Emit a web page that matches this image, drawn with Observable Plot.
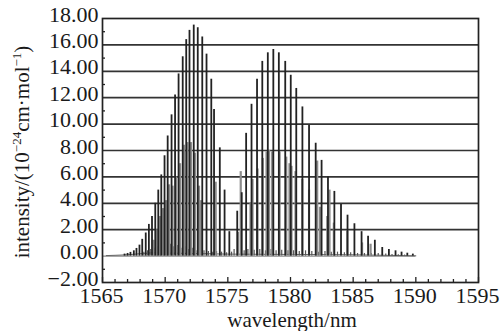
<!DOCTYPE html>
<html><head><meta charset="utf-8">
<script src="https://cdn.jsdelivr.net/npm/d3@7"></script>
<script src="https://cdn.jsdelivr.net/npm/@observablehq/plot@0.6"></script>
<style>
html,body{margin:0;padding:0;background:#fff;}
#chart{width:501px;height:331px;}
</style></head><body><div id="chart"></div>
<script>
// Strong (main) absorption lines: wavelength (nm) and intensity
const mainWl = [1566.76,1567.00,1567.23,1567.50,1567.71,1567.95,1568.17,1568.45,1568.70,1568.95,1569.21,1569.45,1569.69,1569.95,1570.20,1570.51,1570.79,1571.07,1571.40,1571.68,1571.94,1572.28,1572.60,1572.96,1573.30,1573.68,1573.90,1574.36,1574.74,1575.12,1575.75,1576.11,1576.46,1576.89,1577.33,1577.75,1578.19,1578.63,1579.07,1579.58,1580.02,1580.46,1580.95,1581.48,1582.01,1582.48,1582.99,1583.50,1584.03,1584.55,1585.10,1585.67,1586.19,1586.73,1587.32,1587.85,1588.38,1588.86,1589.32,1589.76];
const mainVal = [0.15,0.2,0.28,0.4,0.58,0.83,1.27,1.75,2.4,3.0,4.0,5.0,6.15,7.6,9.1,10.7,12.2,13.8,15.1,16.4,17.1,17.5,17.3,16.6,15.3,13.4,11.1,8.2,5.0,1.85,3.4,4.8,9.3,11.5,13.4,14.75,15.4,15.65,15.4,14.75,13.7,12.7,11.3,9.9,8.55,7.25,6.0,4.9,3.9,3.1,2.45,1.85,1.5,1.2,0.65,0.5,0.4,0.3,0.22,0.15];
// Weaker (secondary, grey) lines
const secWl = [1569.07,1569.33,1569.59,1569.83,1570.07,1570.31,1570.59,1570.87,1571.19,1571.50,1571.78,1572.06,1572.38,1572.70,1572.86,1574.03,1575.81,1576.03,1576.81,1576.97,1577.37,1577.79,1578.09,1578.29,1578.54,1579.13,1579.66,1579.92,1580.08,1580.40,1580.94,1581.48,1582.13,1582.35,1582.93,1583.11,1583.46,1584.53,1585.71,1586.39];
const secVal = [1.2,2.0,3.0,3.6,4.2,5.4,5.3,6.0,7.0,8.4,8.6,8.6,7.8,5.3,4.2,5.6,1.8,6.4,4.0,5.8,6.6,7.4,7.9,8.0,7.9,7.9,7.5,7.0,6.8,6.4,5.8,5.0,7.2,3.7,3.0,5.0,2.5,1.9,1.0,0.9];
// Very weak lines near the baseline
const noiseWl = [1568.3,1568.6,1568.85,1569.1,1569.35,1569.6,1569.9,1570.15,1570.4,1570.65,1570.95,1571.25,1571.55,1571.85,1572.15,1572.45,1572.75,1573.1,1573.45,1573.8,1574.1,1574.5,1574.9,1575.3,1575.5,1576.3,1576.6,1577.1,1577.55,1578.0,1578.45,1578.85,1579.3,1579.8,1580.25,1580.7,1581.2,1581.7,1582.25,1582.75,1583.25,1583.75,1584.3,1584.8,1585.35,1585.9,1586.45,1587.0,1587.6,1588.1,1588.6,1589.1];
const noiseVal = [0.3,0.4,0.5,0.6,0.7,0.8,0.9,0.8,0.9,0.7,0.8,0.6,0.7,0.5,0.6,0.4,0.5,0.4,0.35,0.3,0.35,0.3,0.25,0.3,0.5,0.4,0.5,0.45,0.5,0.4,0.5,0.4,0.45,0.4,0.4,0.35,0.4,0.35,0.3,0.35,0.3,0.3,0.25,0.25,0.2,0.2,0.2,0.2,0.15,0.12,0.1,0.08];
// Baseline of the spectrum
const baseWl = [1565.3,1566,1567,1568,1569,1575,1585,1590];
const baseVal = [0.04,0.06,0.1,0.18,0.25,0.15,0.1,0.02];

const xTicks = [1565,1570,1575,1580,1585,1590,1595];
const xMinor = [1566,1567,1568,1569,1571,1572,1573,1574,1576,1577,1578,1579,1581,1582,1583,1584,1586,1587,1588,1589,1591,1592,1593,1594];
const yTicks = [-2,0,2,4,6,8,10,12,14,16,18];
const gridVals = [2,4,6,8,10,12,14,16];
const yMinor = [-1,1,3,5,7,9,11,13,15,17];

const main = mainWl.map((w,i)=>({wl:w, v:mainVal[i]}));
const sec = secWl.map((w,i)=>({wl:w, v:secVal[i]}));
const noise = noiseWl.map((w,i)=>({wl:w, v:noiseVal[i]}));
const base = baseWl.map((w,i)=>({wl:w, v:baseVal[i]}));

const FONT = '"Liberation Serif","Times New Roman",serif';

const chart = Plot.plot({
  width: 501, height: 331,
  marginLeft: 102, marginRight: 23, marginTop: 18, marginBottom: 49,
  x: {domain: [1565, 1595]},
  y: {domain: [-2, 18]},
  style: {fontFamily: FONT, background: "#fff", color: "#1a1a1a"},
  marks: [
    Plot.ruleY(gridVals, {y: d => d, stroke: "#333", strokeWidth: 1.7}),
    Plot.ruleY([0], {y: d => d, x1: 1565, x2: 1590, stroke: "#8a8a8a", strokeWidth: 1.2}),
    Plot.line(base, {x: "wl", y: "v", stroke: "#666", strokeWidth: 1}),
    Plot.ruleX(noise, {x: "wl", y1: 0, y2: "v", stroke: "#555", strokeWidth: 1.2}),
    Plot.ruleX(sec, {x: "wl", y1: 0, y2: "v", stroke: "#8c8c8c", strokeWidth: 2.2}),
    Plot.ruleX(main, {x: "wl", y1: 0, y2: "v", stroke: "#222", strokeWidth: 1.8}),
    Plot.ruleX(xMinor, {x: d => d, y1: -2, y2: -2, insetTop: -3, stroke: "#222", strokeWidth: 1.3}),
    Plot.ruleX(xTicks, {x: d => d, y1: -2, y2: -2, insetTop: -5, stroke: "#222", strokeWidth: 1.3}),
    Plot.ruleY(yMinor, {y: d => d, x1: 1565, x2: 1565, insetRight: -3, stroke: "#222", strokeWidth: 1.3}),
    Plot.frame({stroke: "#222", strokeWidth: 1.7}),
    Plot.axisX(xTicks, {tickSize: 0, tickPadding: 5, fontSize: 22, label: null, dx: -1, tickFormat: d => String(d)}),
    Plot.axisY(yTicks, {tickSize: 0, tickPadding: 4, fontSize: 22, label: null, dy: -4, tickFormat: d3.format(".2f")})
  ]
});
document.getElementById("chart").appendChild(chart);

const svg = d3.select(chart);
const yl = svg.append("text")
  .attr("transform", "translate(29,152) rotate(-90)")
  .attr("text-anchor", "middle")
  .attr("font-family", FONT).attr("font-size", 21).attr("fill", "#1a1a1a");
yl.append("tspan").text("intensity/(10");
yl.append("tspan").attr("dy", -8).attr("font-size", 13).text("\u221224");
yl.append("tspan").attr("dy", 8).text("cm\u00b7mol");
yl.append("tspan").attr("dy", -8).attr("font-size", 13).text("\u22121");
yl.append("tspan").attr("dy", 8).text(")");

svg.append("text")
  .attr("x", 292).attr("y", 327)
  .attr("text-anchor", "middle")
  .attr("font-family", FONT).attr("font-size", 21).attr("fill", "#1a1a1a")
  .text("wavelength/nm");
</script>
</body></html>
